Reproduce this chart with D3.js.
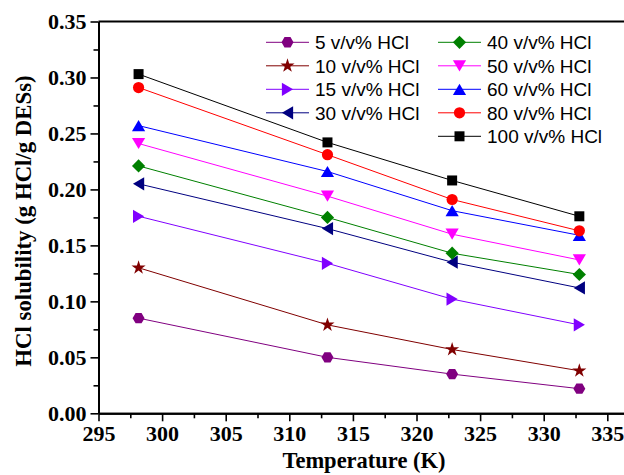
<!DOCTYPE html>
<html>
<head>
<meta charset="utf-8">
<script src="https://cdn.jsdelivr.net/npm/d3@7"></script>
<style>
  html, body { margin: 0; padding: 0; background: #ffffff; }
  svg { display: block; }
</style>
</head>
<body>
<svg id="chart" width="624" height="475"></svg>
<script>
// Measured temperatures (K)
const temperatures = [298.15, 313.0, 322.8, 332.8];

// HCl solubility (g HCl / g DESs) for each HCl concentration
const hcl5   = [0.085, 0.050, 0.035, 0.022];
const hcl10  = [0.130, 0.079, 0.057, 0.038];
const hcl15  = [0.176, 0.134, 0.102, 0.079];
const hcl30  = [0.205, 0.165, 0.135, 0.112];
const hcl40  = [0.221, 0.175, 0.143, 0.124];
const hcl50  = [0.241, 0.194, 0.160, 0.137];
const hcl60  = [0.257, 0.216, 0.181, 0.159];
const hcl80  = [0.291, 0.231, 0.191, 0.163];
const hcl100 = [0.303, 0.242, 0.208, 0.176];

const seriesLabels = ["5 v/v% HCl", "10 v/v% HCl", "15 v/v% HCl", "30 v/v% HCl",
                      "40 v/v% HCl", "50 v/v% HCl", "60 v/v% HCl", "80 v/v% HCl", "100 v/v% HCl"];
const seriesValues = [hcl5, hcl10, hcl15, hcl30, hcl40, hcl50, hcl60, hcl80, hcl100];
const seriesColors = ["#800080", "#800000", "#8000ff", "#000080",
                      "#008000", "#ff00ff", "#0000ff", "#ff0000", "#000000"];
const seriesShapes = ["hexagon", "star", "triRight", "triLeft",
                      "diamond", "triDown", "triUp", "circle", "square"];

const xTickValues = [295, 300, 305, 310, 315, 320, 325, 330, 335];
const xMinorValues = [297.5, 302.5, 307.5, 312.5, 317.5, 322.5, 327.5, 332.5];
const yTickValues = [0.00, 0.05, 0.10, 0.15, 0.20, 0.25, 0.30, 0.35];
const yMinorValues = [0.025, 0.075, 0.125, 0.175, 0.225, 0.275, 0.325];

const svg = d3.select("#chart");

const x = d3.scaleLinear().domain([295, 336.5]).range([98.5, 626.4]);
const y = d3.scaleLinear().domain([0, 0.35]).range([413.3, 21.5]);

const serif = "'Liberation Serif', 'Times New Roman', Times, serif";
const sans = "'Liberation Sans', Arial, Helvetica, sans-serif";

// Marker outlines, centred on (0,0)
function markerPath(shape) {
  const p = d3.path();
  const poly = pts => {
    pts.forEach((pt, i) => i ? p.lineTo(pt[0], pt[1]) : p.moveTo(pt[0], pt[1]));
    p.closePath();
  };
  switch (shape) {
    case "square": { const h = 5; poly([[-h,-h],[h,-h],[h,h],[-h,h]]); break; }
    case "circle": p.arc(0, 0, 5.6, 0, 2 * Math.PI); p.closePath(); break;
    case "diamond": { const h = 6.6; poly([[0,-h],[h,0],[0,h],[-h,0]]); break; }
    case "triUp":    poly([[0,-5.6],[6.6,5.6],[-6.6,5.6]]); break;
    case "triDown":  poly([[0,5.6],[6.6,-5.6],[-6.6,-5.6]]); break;
    case "triRight": poly([[5.6,0],[-5.6,-6.6],[-5.6,6.6]]); break;
    case "triLeft":  poly([[-5.6,0],[5.6,-6.6],[5.6,6.6]]); break;
    case "hexagon": {
      const r = 6;
      poly(d3.range(6).map(i => [r * Math.cos(i * Math.PI / 3), r * Math.sin(i * Math.PI / 3)]));
      break;
    }
    case "star": return d3.symbol(d3.symbolStar, 62)();
  }
  return p.toString();
}

// Axes
const xAxis = d3.axisBottom(x).tickValues(xTickValues).tickSize(8).tickSizeOuter(0).tickFormat(d3.format("d"));
const xMinor = d3.axisBottom(x).tickValues(xMinorValues).tickSize(5).tickSizeOuter(0).tickFormat("");
const yAxis = d3.axisLeft(y).tickValues(yTickValues).tickSize(8).tickSizeOuter(0).tickFormat(d3.format(".2f"));
const yMinor = d3.axisLeft(y).tickValues(yMinorValues).tickSize(5).tickSizeOuter(0).tickFormat("");

const gx = svg.append("g").attr("transform", `translate(0,${y(0)})`).call(xAxis);
svg.append("g").attr("transform", `translate(0,${y(0)})`).call(xMinor);
const gy = svg.append("g").attr("transform", `translate(${x(295)},0)`).call(yAxis);
svg.append("g").attr("transform", `translate(${x(295)},0)`).call(yMinor);

svg.selectAll(".domain").attr("stroke", "#000").attr("stroke-width", 2);
svg.selectAll(".tick line").attr("stroke", "#000").attr("stroke-width", 1.6);

gx.selectAll(".tick text")
  .attr("font-family", serif).attr("font-weight", "bold").attr("font-size", 22)
  .attr("fill", "#000").attr("y", 12).attr("dy", "0.71em");
gy.selectAll(".tick text")
  .attr("font-family", serif).attr("font-weight", "bold").attr("font-size", 22)
  .attr("fill", "#000").attr("x", -12).attr("dy", "0.33em");

// Top frame line
svg.append("line")
  .attr("x1", x(295)).attr("x2", x(336.5))
  .attr("y1", y(0.35)).attr("y2", y(0.35))
  .attr("stroke", "#000").attr("stroke-width", 2);

// Axis titles
svg.append("text")
  .attr("x", 364).attr("y", 468)
  .attr("text-anchor", "middle")
  .attr("font-family", serif).attr("font-weight", "bold").attr("font-size", 22.5)
  .text("Temperature (K)");

svg.append("text")
  .attr("transform", "translate(31,221) rotate(-90)")
  .attr("text-anchor", "middle")
  .attr("font-family", serif).attr("font-weight", "bold").attr("font-size", 22.8)
  .text("HCl solubility (g HCl/g DESs)");

// Series lines and markers
const line = d3.line().x((d, i) => x(temperatures[i])).y(d => y(d));

seriesValues.forEach((vals, k) => {
  svg.append("path")
    .attr("d", line(vals))
    .attr("fill", "none")
    .attr("stroke", seriesColors[k])
    .attr("stroke-width", 1);
});

seriesValues.forEach((vals, k) => {
  svg.append("g").selectAll("path")
    .data(vals)
    .join("path")
    .attr("transform", (d, i) => `translate(${x(temperatures[i])},${y(d)})`)
    .attr("d", markerPath(seriesShapes[k]))
    .attr("fill", seriesColors[k]);
});

// Legend in two columns
const legendCols = [{ x0: 266, x1: 309, tx: 315 }, { x0: 438, x1: 481, tx: 487 }];
const legendRowY = [42.3, 65.8, 89.3, 112.8, 136.3];

seriesLabels.forEach((label, k) => {
  const col = legendCols[k < 4 ? 0 : 1];
  const row = k < 4 ? k : k - 4;
  const g = svg.append("g").attr("transform", `translate(0,${legendRowY[row]})`);
  g.append("line")
    .attr("x1", col.x0).attr("x2", col.x1)
    .attr("stroke", seriesColors[k]).attr("stroke-width", 1);
  g.append("path")
    .attr("transform", `translate(${(col.x0 + col.x1) / 2},0)`)
    .attr("d", markerPath(seriesShapes[k]))
    .attr("fill", seriesColors[k]);
  g.append("text")
    .attr("x", col.tx).attr("dy", "0.36em")
    .attr("font-family", sans).attr("font-size", 19)
    .attr("fill", "#000")
    .text(label);
});
</script>
</body>
</html>
